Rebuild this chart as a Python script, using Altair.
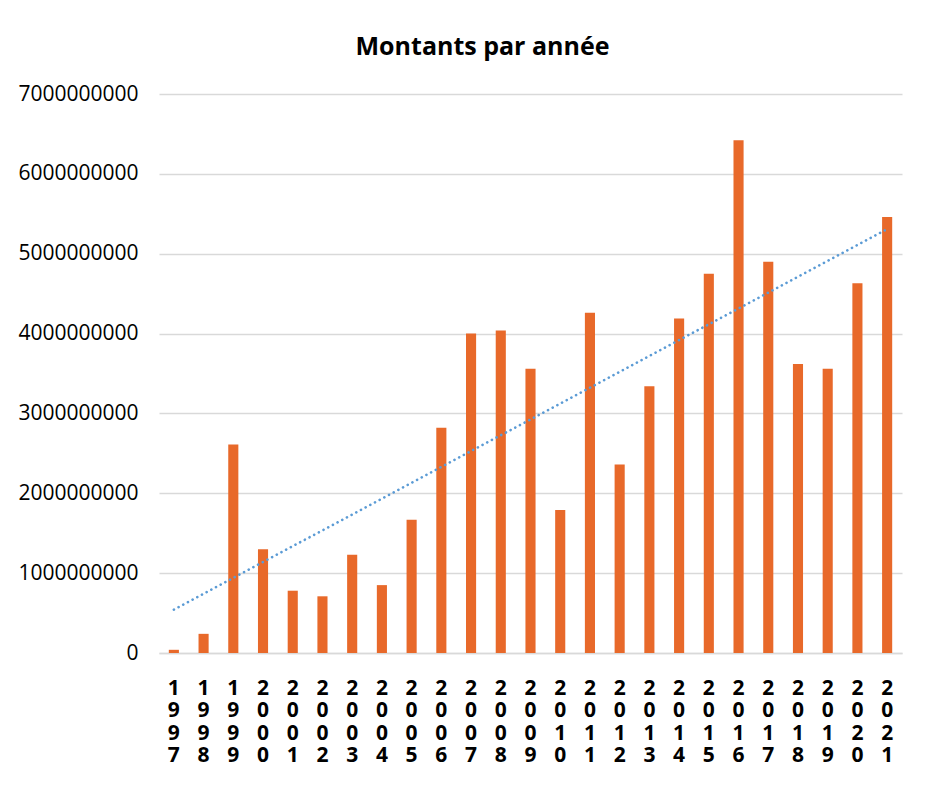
import altair as alt
import pandas as pd

years = list(range(1997, 2022))
amounts = [0.04e9, 0.24e9, 2.61e9, 1.30e9, 0.78e9, 0.71e9, 1.23e9, 0.85e9, 1.67e9,
           2.82e9, 4.00e9, 4.04e9, 3.56e9, 1.79e9, 4.26e9, 2.36e9, 3.34e9, 4.19e9,
           4.75e9, 6.42e9, 4.90e9, 3.62e9, 3.56e9, 4.63e9, 5.46e9]
y_ticks = [0, 1e9, 2e9, 3e9, 4e9, 5e9, 6e9, 7e9]

df = pd.DataFrame({"Year": years, "Amount": amounts})

FONT = "Open Sans"

x_enc = alt.X(
    "Year:O",
    title=None,
    scale=alt.Scale(paddingInner=0.66, paddingOuter=0.33),
    axis=alt.Axis(
        labelAngle=0,
        labelExpr="split(datum.label, '')",
        labelFont=FONT,
        labelFontSize=21,
        labelFontWeight="bold",
        labelLineHeight=22.5,
        labelColor="#000000",
        labelPadding=24,
        labelBaseline="top",
        ticks=False,
        domain=True,
        domainColor="#D9D9D9",
        domainWidth=1.5,
        grid=False,
    ),
)

bars = alt.Chart(df).mark_bar(color="#E8692A").encode(
    x=x_enc,
    y=alt.Y(
        "Amount:Q",
        title=None,
        scale=alt.Scale(domain=[0, 7e9], nice=False),
        axis=alt.Axis(
            values=y_ticks,
            format="d",
            labelFont=FONT,
            labelFontSize=21,
            labelColor="#000000",
            labelPadding=21,
            ticks=False,
            domain=False,
            grid=True,
            gridColor="#D9D9D9",
            gridWidth=1.5,
        ),
    ),
)

trend = alt.Chart(df).transform_regression("Year", "Amount").mark_line(
    color="#5B9BD5", strokeWidth=2.6, strokeDash=[0.1, 5.2], strokeCap="round"
).encode(
    x=alt.X("Year:O"),
    y=alt.Y("Amount:Q"),
)

chart = alt.layer(bars, trend).properties(
    width=743,
    height=559,
    padding={"left": 9, "top": 27, "right": 30, "bottom": 20},
    background="white",
    title=alt.TitleParams(
        "Montants par année",
        font=FONT,
        fontSize=25,
        fontWeight="bold",
        color="#000000",
        anchor="middle",
        dx=-48,
        offset=23,
    ),
).configure_view(stroke=None)

chart.save("out.html", embed_options={"renderer": "svg", "actions": False})
